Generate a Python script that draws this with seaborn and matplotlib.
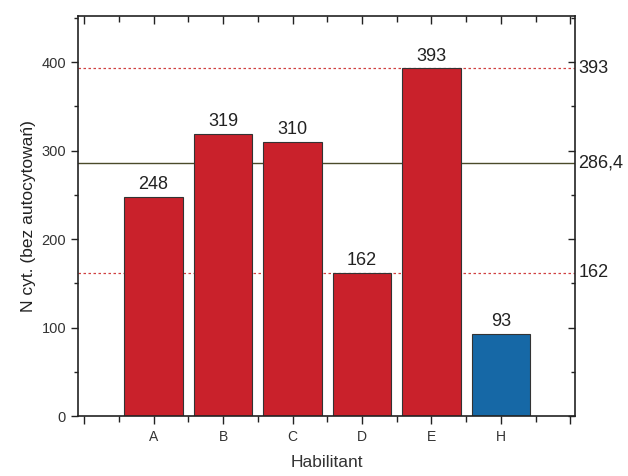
import matplotlib
matplotlib.use("Agg")
import matplotlib.pyplot as plt
import matplotlib.lines as mlines
import seaborn as sns
import pandas as pd
import numpy as np
from matplotlib.ticker import MultipleLocator, FixedLocator

# Citation counts (self-citations excluded) per person
categories = ["A", "B", "C", "D", "E", "H"]
citations = [248, 319, 310, 162, 393, 93]
groups = ["ref", "ref", "ref", "ref", "ref", "hab"]
ref_labels = ["393", "286,4", "162"]

sns.set_theme(style="white")
plt.rcParams["font.family"] = ["Liberation Sans", "DejaVu Sans"]

df = pd.DataFrame({"who": categories, "n": citations, "grp": groups})
ref = df[df.grp == "ref"]["n"]
ref_max, ref_mean, ref_min = ref.max(), ref.mean(), ref.min()

fig = plt.figure(figsize=(6.28, 4.76), dpi=100)
ax = fig.add_axes([0.124, 0.126, 0.792, 0.840])

palette = {"ref": "#c9212b", "hab": "#1668a6"}
sns.barplot(data=df, x="who", y="n", hue="grp", palette=palette, dodge=False,
            width=0.84, edgecolor="#333333", linewidth=0.8, legend=False, ax=ax,
            saturation=1)

# Reference lines: max / mean / min of the comparison group
ax.axhline(ref_max, color="#d04040", lw=0.9, ls=(0, (2, 2)), zorder=0.5)
ax.axhline(ref_min, color="#d04040", lw=0.9, ls=(0, (2, 2)), zorder=0.5)
ax.axhline(ref_mean, color="#4b4b2a", lw=1.0, zorder=0.5)

# Values over the bars
for i, v in enumerate(citations):
    ax.text(i, v + 4, f"{v}", ha="center", va="bottom", fontsize=13, color="#222222")

ax.set_xlim(-1.09, 6.07)
ax.set_ylim(0, 452)

ax.set_xticks(range(-1, 7))
ax.set_xticklabels([""] + categories + [""], fontsize=10, color="#333333")
ax.xaxis.set_minor_locator(FixedLocator(np.arange(-0.5, 6.5, 1.0)))
ax.set_yticks([0, 100, 200, 300, 400])
ax.set_yticklabels(["0", "100", "200", "300", "400"], fontsize=10.5, color="#333333")
ax.yaxis.set_minor_locator(MultipleLocator(50))

ax.tick_params(axis="x", which="major", direction="out", length=6, width=1, bottom=True,
               top=True, labeltop=False, pad=4, color="#222222")
ax.tick_params(axis="x", which="minor", direction="out", length=4, width=1, bottom=True,
               top=True, color="#222222")
ax.tick_params(axis="y", which="major", direction="out", length=5, width=1, left=True,
               right=True, labelright=False, color="#222222")
ax.tick_params(axis="y", which="minor", direction="out", length=3, width=1, left=True,
               right=True, color="#222222")

for s in ax.spines.values():
    s.set_visible(True)
    s.set_color("#222222")
    s.set_linewidth(1.2)

for val, lab in zip([ref_max, ref_mean, ref_min], ref_labels):
    ax.text(1.006, val, lab, transform=ax.get_yaxis_transform(), ha="left",
            va="center", fontsize=13, color="#222222")

ax.set_xlabel("Habilitant", fontsize=12.5, color="#333333", labelpad=8)
ax.set_ylabel("N cyt. (bez autocytowań)", fontsize=12.5, color="#222222", labelpad=4)

# Bottom/left ticks point outward, top/right ticks point into the frame
fig.canvas.draw()
for t in ax.xaxis.get_major_ticks() + ax.xaxis.get_minor_ticks():
    t.tick2line.set_marker(mlines.TICKDOWN)
for t in ax.yaxis.get_major_ticks() + ax.yaxis.get_minor_ticks():
    t.tick2line.set_marker(mlines.TICKLEFT)

fig.savefig("out.png", dpi=100)
